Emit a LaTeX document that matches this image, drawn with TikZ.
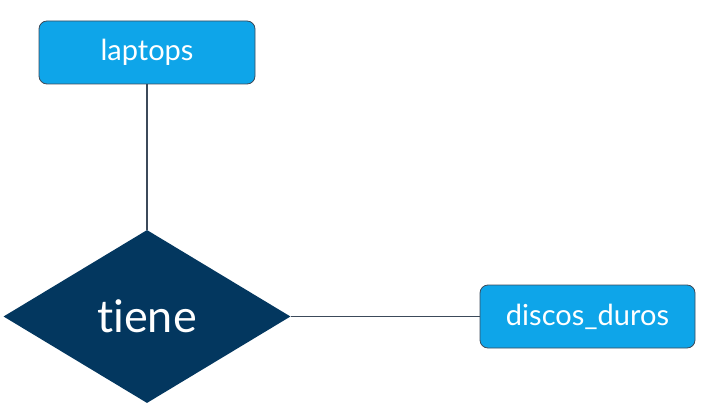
\documentclass[tikz,border=0pt]{standalone}
\usepackage{fontspec}
\setmainfont[Ligatures=NoCommon]{Lato}
\usetikzlibrary{shapes.geometric}
\definecolor{boxfill}{RGB}{14,165,233}
\definecolor{boxline}{RGB}{60,74,90}
\definecolor{navy}{RGB}{3,55,95}
\tikzset{
  entity/.style={draw=boxline, fill=boxfill, rounded corners=8pt, minimum width=216pt, minimum height=63pt, inner sep=0pt, text=white, font=\fontsize{29}{34}\selectfont, line width=0.8pt},
  relation/.style={diamond, fill=navy, minimum width=287pt, minimum height=173pt, inner sep=0pt, aspect=1.66, text=white, font=\fontsize{45}{52}\selectfont},
  conn/.style={draw=boxline, line width=1.3pt}
}
\begin{document}
\begin{tikzpicture}[x=1pt,y=-1pt]
\useasboundingbox (0,0) rectangle (701,409);
\node[entity] (laptops) at (147,52.5) {laptops};
\node[relation] (tiene) at (147,316.5) {tiene};
\node[entity, minimum width=215pt] (discos) at (587.5,316.5) {discos\_duros};
\draw[conn] (laptops) -- (tiene);
\draw[conn] (tiene) -- (discos);
\end{tikzpicture}
\end{document}
